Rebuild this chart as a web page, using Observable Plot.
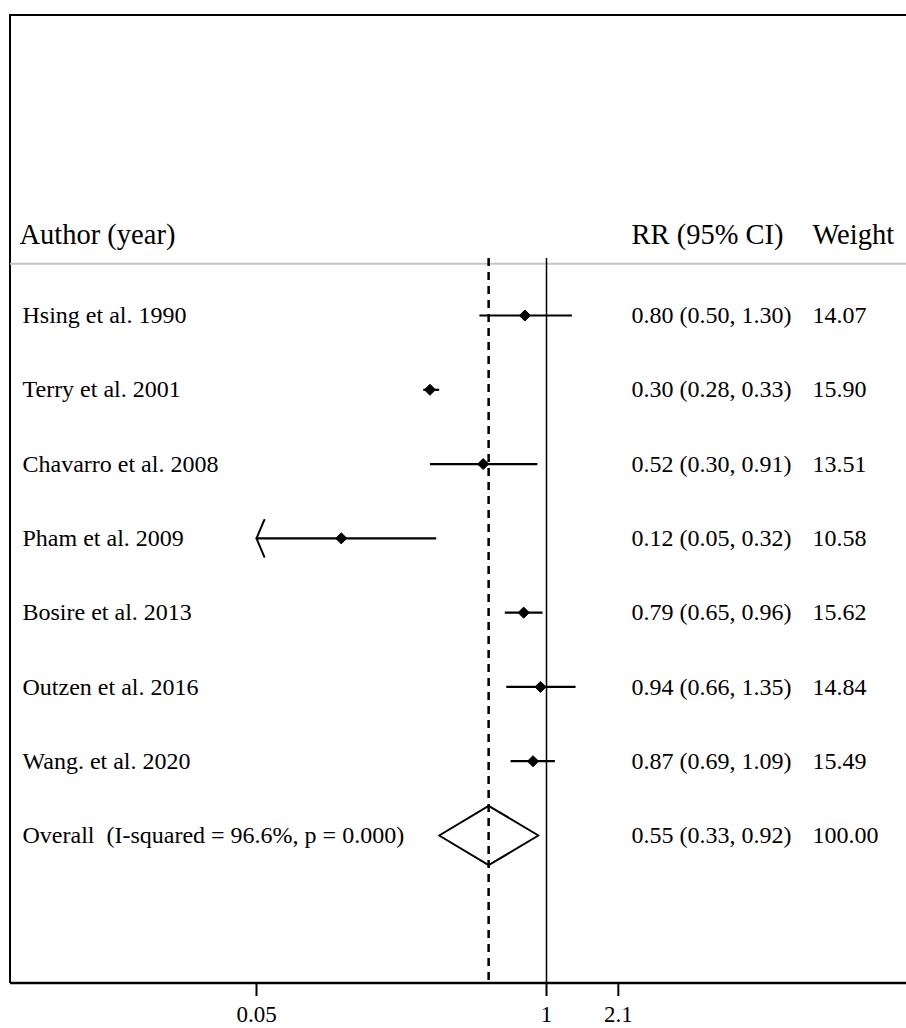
<!DOCTYPE html>
<html>
<head>
<meta charset="utf-8">
<script src="https://cdn.jsdelivr.net/npm/d3@7"></script>
<script src="https://cdn.jsdelivr.net/npm/@observablehq/plot@0.6"></script>
<style>
  html, body { margin: 0; padding: 0; background: #fff; }
  #chart svg { display: block; }
</style>
</head>
<body>
<div id="chart"></div>
<script>
// ---- Data ----
const studies = ["Hsing et al. 1990", "Terry et al. 2001", "Chavarro et al. 2008", "Pham et al. 2009",
                 "Bosire et al. 2013", "Outzen et al. 2016", "Wang. et al. 2020"];
const rr      = [0.80, 0.30, 0.52, 0.12, 0.79, 0.94, 0.87];
const lower   = [0.50, 0.28, 0.30, 0.05, 0.65, 0.66, 0.69];
const upper   = [1.30, 0.33, 0.91, 0.32, 0.96, 1.35, 1.09];
const weights = ["14.07", "15.90", "13.51", "10.58", "15.62", "14.84", "15.49"];
const truncatedLow = [false, false, false, true, false, false, false];

const overallLabel = "Overall  (I-squared = 96.6%, p = 0.000)";
const overallRR = 0.55, overallLo = 0.33, overallHi = 0.92;
const overallWeight = "100.00";

const headers = ["Author (year)", "RR (95% CI)", "Weight"];
const tickValues = [0.05, 1, 2.1];
const tickLabels = ["0.05", "1", "2.1"];

// ---- Tables ----
const fmt = d3.format(".2f");
const rows = studies.map((s, i) => ({
  row: i, label: s, rr: rr[i], lo: lower[i], hi: upper[i], w: weights[i], trunc: truncatedLow[i],
  ci: `${fmt(rr[i])} (${fmt(lower[i])}, ${fmt(upper[i])})`
}));
const overallRow = studies.length;
const textRows = [
  ...rows.map(d => ({row: d.row, label: d.label, ci: d.ci, w: d.w})),
  {row: overallRow, label: overallLabel, ci: `${fmt(overallRR)} (${fmt(overallLo)}, ${fmt(overallHi)})`, w: overallWeight}
];
const diamondHalf = 0.4; // in row units
const diamond = [
  {x: overallLo, y: overallRow},
  {x: overallRR, y: overallRow - diamondHalf},
  {x: overallHi, y: overallRow},
  {x: overallRR, y: overallRow + diamondHalf},
  {x: overallLo, y: overallRow}
];
const arrows = rows.filter(d => d.trunc).flatMap(d => [
  {x: d.lo, y: d.row, rot: 23},
  {x: d.lo, y: d.row, rot: 157}
]);

const font = "Liberation Serif, Times New Roman, serif";

// border (left + top) as a custom render mark
const borders = (index, scales, values, dims) => {
  const g = d3.create("svg:g");
  g.append("path")
    .attr("d", `M${dims.marginLeft},${dims.height - dims.marginBottom}V${dims.marginTop}H${dims.width}`)
    .attr("fill", "none").attr("stroke", "#000").attr("stroke-width", 2);
  return g.node();
};

const lineShape = { draw(context, l) { context.moveTo(0, 0); context.lineTo(0, -l); } };

const chart = Plot.plot({
  width: 906,
  height: 1028,
  marginLeft: 10,
  marginRight: 0,
  marginTop: 15,
  marginBottom: 45,
  style: { fontFamily: font, background: "#fff" },
  x: { type: "log", domain: [0.05, 1], range: [256, 546] },
  y: { domain: [0, 7], range: [315, 835], axis: null },
  marks: [
    borders,
    // header separator
    Plot.ruleY([-1], { dy: 22.5, stroke: "#c4c4c4", strokeWidth: 2 }),
    // null line and overall line
    Plot.ruleX([1], { stroke: "#000", strokeWidth: 1.5, insetTop: 243 }),
    Plot.ruleX([overallRR], { stroke: "#000", strokeWidth: 2.5, strokeDasharray: "8,6", insetTop: 243 }),
    // CI lines
    Plot.link(rows, { x1: "lo", x2: "hi", y1: "row", y2: "row", stroke: "#000", strokeWidth: 2.2 }),
    // arrow for truncated CI
    Plot.vector(arrows, { x: "x", y: "y", rotate: "rot", length: 20, anchor: "start", shape: lineShape, stroke: "#000", strokeWidth: 2 }),
    // point estimates
    Plot.dot(rows, { x: "rr", y: "row", symbol: "diamond2", r: 5, fill: "#000", stroke: "#000", strokeWidth: 1 }),
    // overall diamond
    Plot.line(diamond, { x: "x", y: "y", stroke: "#000", strokeWidth: 2, fill: "none", curve: "linear" }),
    // headers
    Plot.text([headers[0]], { y: [-1], text: d => d, frameAnchor: "left", dx: 9, dy: -6, fontSize: 28.5, fill: "#000", textAnchor: "start" }),
    Plot.text([headers[1]], { y: [-1], text: d => d, frameAnchor: "left", dx: 621, dy: -6, fontSize: 28.5, fill: "#000", textAnchor: "start" }),
    Plot.text([headers[2]], { y: [-1], text: d => d, frameAnchor: "left", dx: 802, dy: -6, fontSize: 28.5, fill: "#000", textAnchor: "start" }),
    // row texts
    Plot.text(textRows, { y: "row", text: "label", frameAnchor: "left", dx: 12, fontSize: 24, fill: "#000", textAnchor: "start" }),
    Plot.text(textRows, { y: "row", text: "ci", frameAnchor: "left", dx: 621, fontSize: 24, fill: "#000", textAnchor: "start" }),
    Plot.text(textRows, { y: "row", text: "w", frameAnchor: "left", dx: 802, fontSize: 24, fill: "#000", textAnchor: "start" }),
    // x axis
    Plot.axisX({
      anchor: "bottom", ticks: tickValues, tickFormat: (d) => tickLabels[tickValues.indexOf(d)],
      tickSize: 13, tickPadding: 9, fontSize: 23, stroke: "#000", strokeWidth: 2, fill: "#000", label: null
    })
  ]
});

// bottom axis line
const svg = d3.select(chart);
svg.append("line")
  .attr("x1", 10).attr("x2", 906)
  .attr("y1", 983).attr("y2", 983)
  .attr("stroke", "#000").attr("stroke-width", 2.5);

document.getElementById("chart").appendChild(chart);
</script>
</body>
</html>
